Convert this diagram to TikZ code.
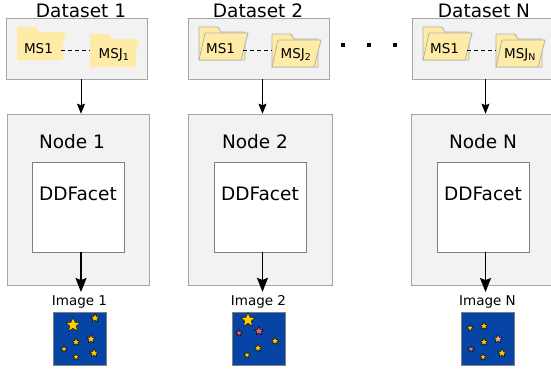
\documentclass[tikz,border=0pt]{standalone}
\usepackage{fontspec}
\setmainfont{DejaVu Sans}
\usepackage{tikz}
\usetikzlibrary{positioning,shapes.geometric,arrows.meta}
\definecolor{boxgray}{HTML}{F2F2F2}
\definecolor{linegray}{HTML}{A6A6A6}
\definecolor{facetline}{HTML}{7F7F7F}
\definecolor{foldery}{HTML}{FFEBA8}
\definecolor{folderline}{HTML}{B0B0B0}
\definecolor{skyblue}{HTML}{0645A6}
\definecolor{stary}{HTML}{FFCC00}
\definecolor{starp}{HTML}{F06472}
\definecolor{staro}{HTML}{F4A88C}
\definecolor{starm}{HTML}{C8808C}
\newcommand{\bigfont}{\fontsize{18.5}{22}\selectfont}
\newcommand{\smallfont}{\fontsize{13.5}{16}\selectfont}
% folder at top left (#1,#2), style #3
\newcommand{\msfolder}[3]{%
  \path[#3] (#1,#2+33) -- (#1,#2) -- (#1+19,#2) -- (#1+22,#2+5) -- (#1+46,#2+5) -- (#1+46,#2+8) -- (#1+46,#2+33) -- cycle;
  \path[#3] (#1,#2+33) -- (#1+6,#2+6) -- (#1+49,#2+6) -- (#1+42,#2+33) -- cycle;
}

\begin{document}
\begin{tikzpicture}[x=1pt,y=-1pt,
  dsbox/.style={draw=linegray, fill=boxgray, line width=0.6pt, minimum height=61pt, inner sep=0pt},
  nodebox/.style={draw=linegray, fill=boxgray, line width=0.6pt, minimum height=171pt, inner sep=0pt},
  facetbox/.style={draw=facetline, fill=white, line width=0.6pt, minimum width=92pt, minimum height=90pt, inner sep=0pt},
  imgbox/.style={draw=gray, fill=skyblue, line width=0.5pt, minimum size=53pt, inner sep=0pt},
  bigtext/.style={font=\bigfont, anchor=base},
  mstext/.style={font=\smallfont, anchor=base, inner xsep=8pt},
  imgtext/.style={font=\smallfont},
  flatfold/.style={fill=foldery},
  linefold/.style={fill=foldery, draw=folderline, line width=0.8pt, line join=round},
  msdash/.style={dash pattern=on 4pt off 3pt, line width=0.8pt},
  thinarrow/.style={-{Stealth[length=10pt,width=8pt,inset=1.5pt]}, line width=0.8pt},
  bigarrow/.style={-{Stealth[length=14pt,width=11pt,inset=2pt]}, line width=1.5pt},
  skystar/.style={star, star points=5, star point ratio=2.2, draw=black, line width=0.4pt, inner sep=0pt}]
\useasboundingbox (0,0) rectangle (551,373);

% datasets
\node[dsbox, minimum width=141pt] (ds1) at (76.5,48.5) {};
\node[dsbox, minimum width=141pt] (ds2) at (258.5,48.5) {};
\node[dsbox, minimum width=150pt] (dsN) at (487,48.5) {};
\node[bigtext] (dl1) at (81,17) {Dataset 1};
\node[bigtext] (dl2) at (258,17) {Dataset 2};
\node[bigtext] (dlN) at (484,17) {Dataset N};

\msfolder{17}{27}{flatfold}
\msfolder{90}{34}{flatfold}
\msfolder{199}{27}{linefold}
\msfolder{272}{34}{linefold}
\msfolder{423}{27}{linefold}
\msfolder{496}{34}{linefold}

\node[mstext] (ms1a) at (38.5,53) {MS1};
\node[mstext] (msja) at (114,58.5) {MSJ\textsubscript{1}};
\node[mstext] (ms1b) at (220.5,53) {MS1};
\node[mstext] (msjb) at (296,58.5) {MSJ\textsubscript{2}};
\node[mstext] (ms1c) at (444.5,53) {MS1};
\node[mstext] (msjc) at (520,58.5) {MSJ\textsubscript{N}};
\draw[msdash] ([yshift=-2pt]ms1a.east) -- ([yshift=-2pt]ms1a.east -| msja.west);
\draw[msdash] ([yshift=-2pt]ms1b.east) -- ([yshift=-2pt]ms1b.east -| msjb.west);
\draw[msdash] ([yshift=-2pt]ms1c.east) -- ([yshift=-2pt]ms1c.east -| msjc.west);

\foreach \x in {343,369,395}
  \fill (\x-1.75,43.25) rectangle ++(3.5,3.5);

% compute nodes
\node[nodebox, minimum width=142pt] (nb1) at (78,199.5) {};
\node[nodebox, minimum width=144pt] (nb2) at (260,199.5) {};
\node[nodebox, minimum width=150pt] (nbN) at (486,199.5) {};
\node[bigtext] (nl1) at (72,148) {Node 1};
\node[bigtext] (nl2) at (255,148) {Node 2};
\node[bigtext] (nlN) at (483,148) {Node N};
\node[facetbox] (f1) at (78,207) {};
\node[facetbox] (f2) at (260.5,207) {};
\node[facetbox] (fN) at (483,207) {};
\node[bigtext] (t1) at (78,200) {DDFacet};
\node[bigtext] (t2) at (260,200) {DDFacet};
\node[bigtext] (tN) at (483,200) {DDFacet};

% images
\node[imgbox] (im1) at (79.5,338.5) {};
\node[imgbox] (im2) at (258.5,338.5) {};
\node[imgbox] (imN) at (487.5,338.5) {};
\node[imgtext, above=0pt of im1] (il1) {Image 1};
\node[imgtext, above=0pt of im2] (il2) {Image 2};
\node[imgtext, above=0pt of imN] (ilN) {Image N};

\foreach \x/\y/\r/\c [count=\i] in {73/325/7.5/stary, 95/318/4.5/stary, 76/342/4/stary,
    91/339/4.5/stary, 64/349/3.5/stary, 76/357/3.5/stary, 94/353/4.5/stary}
  \node[skystar, minimum size={2*\r pt}, fill=\c] (sa\i) at (\x,\y) {};
\foreach \x/\y/\r/\c [count=\i] in {248/320/7.5/stary, 259/331/4.5/starp, 239/333/3.5/starp,
    275/341/4/stary, 258/348/4/stary, 247/355/3.5/stary}
  \node[skystar, minimum size={2*\r pt}, fill=\c] (sb\i) at (\x,\y) {};
\foreach \x/\y/\r/\c [count=\i] in {470/328/3.5/stary, 484/326/4/stary, 484/342/4/stary,
    498/339/4.5/staro, 471/349/3.5/starm, 483/357/3.5/stary, 502/353/4.5/stary}
  \node[skystar, minimum size={2*\r pt}, fill=\c] (sc\i) at (\x,\y) {};

% arrows
\coordinate (c1) at (81,0);
\coordinate (c2) at (262.5,0);
\coordinate (cN) at (485.5,0);
\draw[thinarrow] (ds1.south -| c1) -- (nb1.north -| c1);
\draw[thinarrow] (ds2.south -| c2) -- (nb2.north -| c2);
\draw[thinarrow] (dsN.south -| cN) -- (nbN.north -| cN);
\draw[bigarrow] (f1.south -| c1) -- (il1.north -| c1);
\draw[bigarrow] (f2.south -| c2) -- (il2.north -| c2);
\draw[bigarrow] (fN.south -| cN) -- (ilN.north -| cN);
\end{tikzpicture}
\end{document}
